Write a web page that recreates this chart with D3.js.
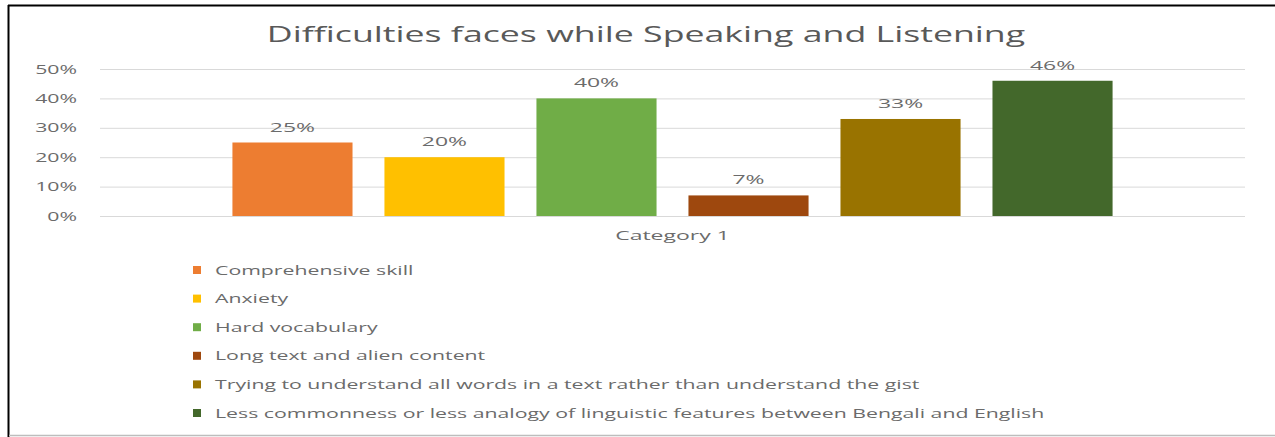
<!DOCTYPE html>
<html>
<head>
<meta charset="utf-8">
<script src="https://cdn.jsdelivr.net/npm/d3@7"></script>
<style>
  html, body { margin: 0; padding: 0; background: #fff; }
  svg { display: block; }
  text { font-family: "Open Sans", "DejaVu Sans", sans-serif; fill: #595959; }
</style>
</head>
<body>
<svg id="chart" width="1275" height="437"></svg>
<script>
// Chart data
const title = "Difficulties faces while Speaking and Listening";
const categories = ["Category 1"];
const seriesNames = [
  "Comprehensive skill",
  "Anxiety",
  "Hard vocabulary",
  "Long text and alien content",
  "Trying to understand all words in a text rather than understand the gist",
  "Less commonness or less analogy of linguistic features between Bengali and English"
];
const seriesValues = [0.25, 0.20, 0.40, 0.07, 0.33, 0.46];
const seriesColors = ["#ED7D31", "#FFC000", "#70AD47", "#9E480E", "#997300", "#43682B"];
const yTicks = [0, 0.1, 0.2, 0.3, 0.4, 0.5];

const svg = d3.select("#chart");
const W = 1275, H = 437;
const STRETCH = 1.7; // horizontal widening of all text

function stretchText(sel) {
  sel.each(function () {
    const w = this.getComputedTextLength();
    d3.select(this).attr("textLength", w * STRETCH).attr("lengthAdjust", "spacingAndGlyphs");
  });
}

// Frame
svg.append("rect").attr("x", 0).attr("y", 0).attr("width", W).attr("height", H).attr("fill", "#fff");
svg.append("line").attr("x1", 8).attr("x2", W).attr("y1", 5.5).attr("y2", 5.5)
  .attr("stroke", "#000").attr("stroke-width", 2);
svg.append("line").attr("x1", 8.5).attr("x2", 8.5).attr("y1", 5).attr("y2", H)
  .attr("stroke", "#000").attr("stroke-width", 2);
svg.append("line").attr("x1", 9).attr("x2", W).attr("y1", 435.5).attr("y2", 435.5)
  .attr("stroke", "#bdbdbd").attr("stroke-width", 1.5);

// Scales
const plotLeft = 100, plotRight = 1245;
const y = d3.scaleLinear().domain([0, 0.5]).range([216, 69]);
const x0 = d3.scaleBand().domain(categories).range([plotLeft, plotRight])
  .paddingInner(0).paddingOuter(0.1277);
const x1 = d3.scaleBand().domain(seriesNames).range([0, x0.bandwidth()])
  .paddingInner(0.21).paddingOuter(0.105);

// Gridlines and y axis labels
const yAxis = d3.axisLeft(y).tickValues(yTicks).tickFormat(d3.format(".0%"))
  .tickSize(-(plotRight - plotLeft)).tickPadding(23);
const gy = svg.append("g").attr("transform", `translate(${plotLeft},0)`).call(yAxis);
gy.select(".domain").remove();
gy.selectAll(".tick line").attr("stroke", "#d9d9d9").attr("stroke-width", 1);
gy.selectAll(".tick text").attr("font-size", 12.5).style("fill", "#6b6b6b")
  .attr("font-family", "\"Open Sans\", sans-serif")
  .call(stretchText);

// Title
svg.append("text").attr("x", 646).attr("y", 42).attr("text-anchor", "middle")
  .attr("font-size", 21).text(title).call(stretchText);

// Bars
const group = svg.append("g").selectAll("g").data(categories).join("g")
  .attr("transform", d => `translate(${x0(d)},0)`);

const barData = seriesNames.map((name, i) => ({ name, value: seriesValues[i], color: seriesColors[i] }));

group.selectAll("rect").data(barData).join("rect")
  .attr("x", d => x1(d.name))
  .attr("y", d => y(d.value))
  .attr("width", x1.bandwidth())
  .attr("height", d => y(0) - y(d.value))
  .attr("fill", d => d.color);

// Value labels
group.selectAll("text.val").data(barData).join("text").attr("class", "val")
  .attr("x", d => x1(d.name) + x1.bandwidth() / 2)
  .attr("y", d => y(d.value) - 11)
  .attr("text-anchor", "middle")
  .attr("font-size", 13.5)
  .style("fill", "#6b6b6b")
  .text(d => d3.format(".0%")(d.value))
  .call(stretchText);

// Category axis label
svg.selectAll("text.cat").data(categories).join("text").attr("class", "cat")
  .attr("x", d => x0(d) + x0.bandwidth() / 2)
  .attr("y", 240)
  .attr("text-anchor", "middle")
  .attr("font-size", 13.5)
  .style("fill", "#6b6b6b")
  .text(d => d)
  .call(stretchText);

// Legend
const legend = svg.append("g").attr("transform", "translate(193,270)");
const rowH = 28.6;
const items = legend.selectAll("g").data(barData).join("g")
  .attr("transform", (d, i) => `translate(0,${i * rowH})`);
items.append("rect").attr("x", 0).attr("y", -4).attr("width", 8).attr("height", 8)
  .attr("fill", d => d.color);
items.append("text").attr("x", 22).attr("y", 4.5).attr("font-size", 12.5)
  .style("fill", "#6b6b6b")
  .text(d => d.name).call(stretchText);
</script>
</body>
</html>
